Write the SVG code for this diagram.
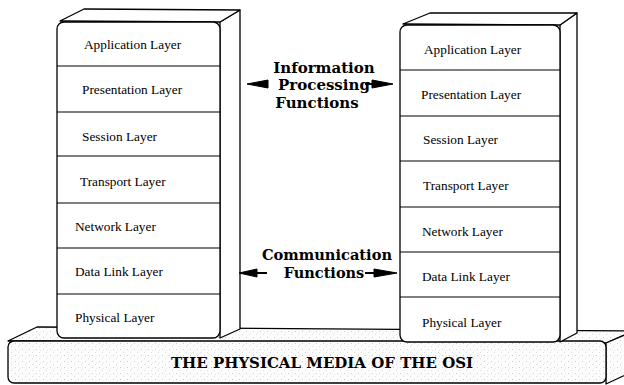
<svg xmlns="http://www.w3.org/2000/svg" width="624" height="385" viewBox="0 0 624 385">
<defs>
<pattern id="stip" width="7" height="6" patternUnits="userSpaceOnUse">
<rect width="7" height="6" fill="#fcfcfc"/>
<rect x="1" y="1" width="1" height="1" fill="#cdcdcd"/>
<rect x="4" y="4" width="1" height="1" fill="#dcdcdc"/>
<rect x="5" y="2" width="1" height="1" fill="#e8e8e8"/>
</pattern>
</defs>
<style>
.ln{fill:#fff;stroke:#000;stroke-width:1.3;stroke-linejoin:round}
.sep{stroke:#000;stroke-width:1.2}
.lay{font-family:"Liberation Serif","Times New Roman",serif;font-size:13.3px;fill:#000}
.bt{font-family:"DejaVu Serif","Liberation Serif",serif;font-weight:bold;font-size:15px;fill:#000}
.bs{fill:url(#stip);stroke:#000;stroke-width:1.3;stroke-linejoin:round}
.sh{stroke:#000;stroke-width:2;fill:none}
.hd{fill:#000;stroke:#000;stroke-width:1}
</style>

<g id="base">
<path class="bs" d="M8,341 L37,327 L634,331 L606,343 Z"/>
<path class="bs" d="M606,343 L634,331 L634,371 L606,384 Z"/>
<rect class="bs" x="8" y="341" width="598" height="42" rx="6"/>
<text class="bt" x="322" y="368" text-anchor="middle">THE PHYSICAL MEDIA OF THE OSI</text>
</g>

<g id="left-stack">
<path class="ln" d="M220,22 L240,10 L240,329 L220,338 Z"/>
<path class="ln" d="M60,21 L84,9 L240,10 L220,22 Z"/>
<rect class="ln" x="57" y="22" width="163" height="316" rx="7"/>
<line class="sep" x1="57" y1="66" x2="220" y2="66"/>
<line class="sep" x1="57" y1="112" x2="220" y2="112"/>
<line class="sep" x1="57" y1="156" x2="220" y2="156"/>
<line class="sep" x1="57" y1="203" x2="220" y2="203"/>
<line class="sep" x1="57" y1="248" x2="220" y2="248"/>
<line class="sep" x1="57" y1="294" x2="220" y2="294"/>
<text class="lay" x="84" y="49">Application Layer</text>
<text class="lay" x="82" y="94">Presentation Layer</text>
<text class="lay" x="82" y="141">Session Layer</text>
<text class="lay" x="80" y="186">Transport Layer</text>
<text class="lay" x="75" y="231">Network Layer</text>
<text class="lay" x="75" y="276">Data Link Layer</text>
<text class="lay" x="75" y="322">Physical Layer</text>
</g>

<g id="right-stack">
<path class="ln" d="M560,25 L577,13 L577,333 L560,342 Z"/>
<path class="ln" d="M403,24 L430,13 L577,13 L560,25 Z"/>
<rect class="ln" x="400" y="25" width="160" height="317" rx="7"/>
<line class="sep" x1="400" y1="70" x2="560" y2="70"/>
<line class="sep" x1="400" y1="116" x2="560" y2="116"/>
<line class="sep" x1="400" y1="161" x2="560" y2="161"/>
<line class="sep" x1="400" y1="207" x2="560" y2="207"/>
<line class="sep" x1="400" y1="252" x2="560" y2="252"/>
<line class="sep" x1="400" y1="297" x2="560" y2="297"/>
<text class="lay" x="424" y="54">Application Layer</text>
<text class="lay" x="421" y="99">Presentation Layer</text>
<text class="lay" x="423" y="144">Session Layer</text>
<text class="lay" x="423" y="190">Transport Layer</text>
<text class="lay" x="422" y="236">Network Layer</text>
<text class="lay" x="422" y="281">Data Link Layer</text>
<text class="lay" x="422" y="327">Physical Layer</text>
</g>

<g id="info-label">
<text class="bt" x="324" y="73" text-anchor="middle">Information</text>
<text class="bt" x="324" y="90" text-anchor="middle">Processing</text>
<text class="bt" x="317" y="108" text-anchor="middle">Functions</text>
</g>

<g id="comm-label">
<text class="bt" x="327" y="260" text-anchor="middle" style="font-size:14.5px" textLength="130" lengthAdjust="spacingAndGlyphs">Communication</text>
<text class="bt" x="324" y="278" text-anchor="middle" style="font-size:14.5px">Functions</text>
</g>

<g id="connectors">
<path class="hd" d="M268,80 L247,84 L268,88 Z"/>
<line class="sh" x1="365" y1="84" x2="374" y2="84"/>
<path class="hd" d="M372,80 L393,84 L372,88 Z"/>
<line class="sh" x1="253" y1="273" x2="267" y2="273"/>
<path class="hd" d="M257,269 L239,273 L257,277 Z"/>
<line class="sh" x1="365" y1="273" x2="376" y2="273"/>
<path class="hd" d="M374,269 L397,273 L374,277 Z"/>
</g>
</svg>
